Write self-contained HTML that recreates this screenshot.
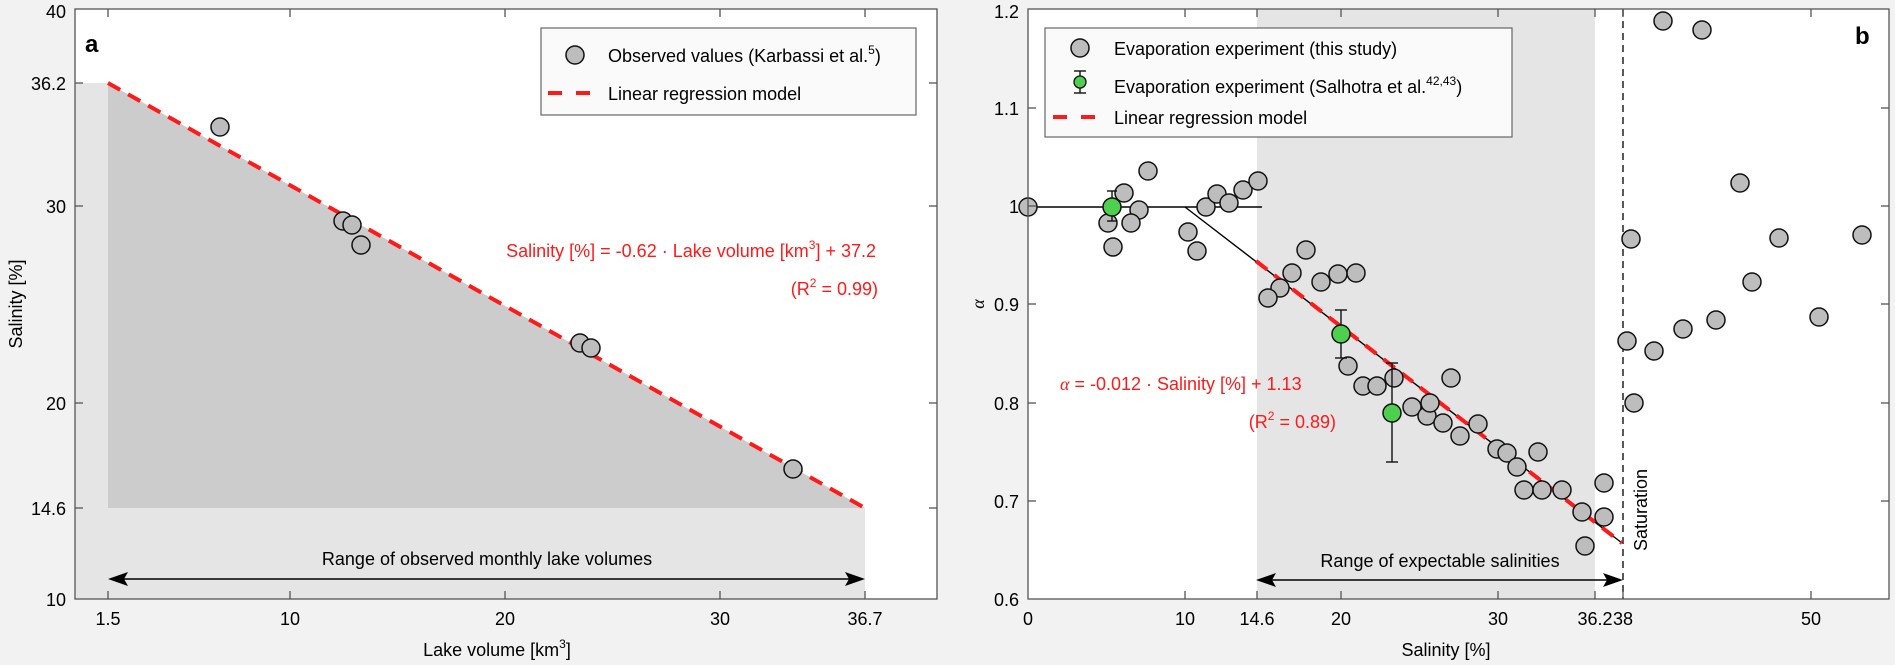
<!DOCTYPE html>
<html><head><meta charset="utf-8"><style>
html,body{margin:0;padding:0;background:#f2f2f2;}
svg{display:block;font-family:"Liberation Sans",Arial,sans-serif;}
</style></head><body>
<svg width="1895" height="665" viewBox="0 0 1895 665" xmlns="http://www.w3.org/2000/svg">
<rect width="1895" height="665" fill="#f2f2f2"/>
<!-- ===== Panel a ===== -->
<rect x="75" y="9" width="862" height="590" fill="#fff"/>
<rect x="75" y="83" width="33" height="516" fill="#e5e5e5"/>
<rect x="108" y="508" width="757" height="91" fill="#e5e5e5"/>
<polygon points="108,83 865,508 108,508" fill="#cccccc"/>
<line x1="108" y1="83" x2="865" y2="508" stroke="#ff1a1a" stroke-width="4" stroke-dasharray="14,9"/>
<g fill="#bdbdbd" stroke="#111" stroke-width="1.5">
<circle cx="220" cy="127" r="9"/><circle cx="343" cy="221" r="9"/><circle cx="352" cy="225" r="9"/>
<circle cx="361" cy="245" r="9"/><circle cx="580" cy="343" r="9"/><circle cx="591" cy="348" r="9"/>
<circle cx="793" cy="469" r="9"/>
</g>
<line x1="118" y1="579" x2="855" y2="579" stroke="#000" stroke-width="1.5"/>
<polygon points="108,579 128,572 124,579 128,586" fill="#000"/>
<polygon points="865,579 845,572 849,579 845,586" fill="#000"/>
<text x="487" y="565" font-size="18" text-anchor="middle">Range of observed monthly lake volumes</text>
<rect x="541" y="28" width="375" height="87" fill="#fafafa" stroke="#666" stroke-width="1.2"/>
<circle cx="575" cy="55" r="9" fill="#bdbdbd" stroke="#111" stroke-width="1.5"/>
<text x="608" y="62" font-size="18">Observed values (Karbassi et al.<tspan font-size="12" dy="-8">5</tspan><tspan dy="8">)</tspan></text>
<line x1="548" y1="93" x2="590" y2="93" stroke="#ff1a1a" stroke-width="4" stroke-dasharray="14,14"/>
<text x="608" y="100" font-size="18">Linear regression model</text>
<text x="876" y="257" font-size="18" fill="#ff1a1a" text-anchor="end">Salinity [%] = -0.62 · Lake volume [km<tspan font-size="12" dy="-8">3</tspan><tspan dy="8">] + 37.2</tspan></text>
<text x="878" y="295" font-size="18" fill="#ff1a1a" text-anchor="end">(R<tspan font-size="12" dy="-8">2</tspan><tspan dy="8"> = 0.99)</tspan></text>
<text x="85" y="52" font-size="24" font-weight="bold">a</text>
<rect x="75" y="9" width="862" height="590" fill="none" stroke="#555" stroke-width="1.3"/>
<g stroke="#555" stroke-width="1.3">
<line x1="108" y1="599" x2="108" y2="591"/><line x1="290" y1="599" x2="290" y2="591"/><line x1="505" y1="599" x2="505" y2="591"/><line x1="720" y1="599" x2="720" y2="591"/><line x1="865" y1="599" x2="865" y2="591"/>
<line x1="108" y1="9" x2="108" y2="17"/><line x1="290" y1="9" x2="290" y2="17"/><line x1="505" y1="9" x2="505" y2="17"/><line x1="720" y1="9" x2="720" y2="17"/><line x1="865" y1="9" x2="865" y2="17"/>
<line x1="75" y1="83" x2="83" y2="83"/><line x1="75" y1="206" x2="83" y2="206"/><line x1="75" y1="403" x2="83" y2="403"/><line x1="75" y1="508" x2="83" y2="508"/>
<line x1="937" y1="83" x2="929" y2="83"/><line x1="937" y1="206" x2="929" y2="206"/><line x1="937" y1="403" x2="929" y2="403"/><line x1="937" y1="508" x2="929" y2="508"/>
</g>
<g font-size="18" text-anchor="end">
<text x="66" y="18">40</text><text x="66" y="90">36.2</text><text x="66" y="213">30</text><text x="66" y="410">20</text><text x="66" y="515">14.6</text><text x="66" y="606">10</text>
</g>
<g font-size="18" text-anchor="middle">
<text x="108" y="625">1.5</text><text x="290" y="625">10</text><text x="505" y="625">20</text><text x="720" y="625">30</text><text x="865" y="625">36.7</text>
</g>
<text x="497" y="656" font-size="18" text-anchor="middle">Lake volume [km<tspan font-size="12" dy="-8">3</tspan><tspan dy="8">]</tspan></text>
<text transform="translate(22,304) rotate(-90)" font-size="18" text-anchor="middle">Salinity [%]</text>

<!-- ===== Panel b ===== -->
<rect x="1028" y="9" width="861" height="590" fill="#fff"/>
<rect x="1257" y="9" width="338" height="590" fill="#e5e5e5"/>
<line x1="1623" y1="9" x2="1623" y2="599" stroke="#222" stroke-width="1.5" stroke-dasharray="7,5"/>
<line x1="1028" y1="207" x2="1262" y2="207" stroke="#000" stroke-width="1.4"/>
<line x1="1185" y1="207" x2="1622" y2="543" stroke="#000" stroke-width="1.4"/>
<line x1="1256" y1="261" x2="1622" y2="543" stroke="#ff1a1a" stroke-width="4" stroke-dasharray="14,9"/>
<g fill="#bdbdbd" stroke="#111" stroke-width="1.5">
<circle cx="1028" cy="207" r="9"/><circle cx="1148" cy="171" r="9"/><circle cx="1124" cy="193" r="9"/>
<circle cx="1108" cy="223" r="9"/><circle cx="1139" cy="210" r="9"/><circle cx="1131" cy="223" r="9"/>
<circle cx="1113" cy="247" r="9"/><circle cx="1188" cy="232" r="9"/><circle cx="1197" cy="251" r="9"/>
<circle cx="1206" cy="207" r="9"/><circle cx="1217" cy="194" r="9"/><circle cx="1229" cy="203" r="9"/>
<circle cx="1243" cy="190" r="9"/><circle cx="1258" cy="181" r="9"/><circle cx="1306" cy="250" r="9"/>
<circle cx="1292" cy="273" r="9"/><circle cx="1280" cy="288" r="9"/><circle cx="1268" cy="298" r="9"/>
<circle cx="1321" cy="282" r="9"/><circle cx="1338" cy="274" r="9"/><circle cx="1356" cy="273" r="9"/>
<circle cx="1348" cy="366" r="9"/><circle cx="1363" cy="386" r="9"/><circle cx="1377" cy="386" r="9"/>
<circle cx="1394" cy="378" r="9"/><circle cx="1451" cy="378" r="9"/><circle cx="1412" cy="407" r="9"/>
<circle cx="1427" cy="416" r="9"/><circle cx="1430" cy="403" r="9"/><circle cx="1443" cy="423" r="9"/>
<circle cx="1460" cy="436" r="9"/><circle cx="1478" cy="424" r="9"/><circle cx="1497" cy="449" r="9"/>
<circle cx="1507" cy="453" r="9"/><circle cx="1538" cy="452" r="9"/><circle cx="1517" cy="467" r="9"/>
<circle cx="1524" cy="490" r="9"/><circle cx="1542" cy="490" r="9"/><circle cx="1562" cy="490" r="9"/>
<circle cx="1604" cy="483" r="9"/><circle cx="1582" cy="512" r="9"/><circle cx="1604" cy="517" r="9"/>
<circle cx="1585" cy="546" r="9"/>
<circle cx="1663" cy="21" r="9"/><circle cx="1702" cy="30" r="9"/><circle cx="1740" cy="183" r="9"/>
<circle cx="1631" cy="239" r="9"/><circle cx="1779" cy="238" r="9"/><circle cx="1862" cy="235" r="9"/>
<circle cx="1752" cy="282" r="9"/><circle cx="1716" cy="320" r="9"/><circle cx="1819" cy="317" r="9"/>
<circle cx="1683" cy="329" r="9"/><circle cx="1627" cy="341" r="9"/><circle cx="1654" cy="351" r="9"/>
<circle cx="1634" cy="403" r="9"/>
</g>
<g stroke="#111" stroke-width="1.4">
<line x1="1112" y1="191" x2="1112" y2="221"/><line x1="1107" y1="191" x2="1117" y2="191"/><line x1="1107" y1="221" x2="1117" y2="221"/>
<line x1="1341" y1="310" x2="1341" y2="358"/><line x1="1335" y1="310" x2="1347" y2="310"/><line x1="1335" y1="358" x2="1347" y2="358"/>
<line x1="1392" y1="363" x2="1392" y2="462"/><line x1="1386" y1="363" x2="1398" y2="363"/><line x1="1386" y1="462" x2="1398" y2="462"/>
</g>
<g fill="#4fcf4f" stroke="#111" stroke-width="1.5">
<circle cx="1112" cy="207" r="9"/><circle cx="1341" cy="334" r="9"/><circle cx="1392" cy="413" r="9"/>
</g>
<line x1="1266" y1="580" x2="1613" y2="580" stroke="#000" stroke-width="1.5"/>
<polygon points="1256,580 1276,573 1272,580 1276,587" fill="#000"/>
<polygon points="1623,580 1603,573 1607,580 1603,587" fill="#000"/>
<text x="1440" y="567" font-size="18" text-anchor="middle">Range of expectable salinities</text>
<text transform="translate(1647,510) rotate(-90)" font-size="18" text-anchor="middle">Saturation</text>
<rect x="1045" y="28" width="467" height="109" fill="#fafafa" stroke="#666" stroke-width="1.2"/>
<circle cx="1080" cy="48" r="9" fill="#bdbdbd" stroke="#111" stroke-width="1.5"/>
<text x="1114" y="55" font-size="18">Evaporation experiment (this study)</text>
<g stroke="#111" stroke-width="1.4"><line x1="1080" y1="71" x2="1080" y2="93"/><line x1="1074" y1="71" x2="1086" y2="71"/><line x1="1074" y1="93" x2="1086" y2="93"/></g>
<circle cx="1080" cy="82" r="6" fill="#4fcf4f" stroke="#111" stroke-width="1.3"/>
<text x="1114" y="93" font-size="18">Evaporation experiment (Salhotra et al.<tspan font-size="12" dy="-8">42,43</tspan><tspan dy="8">)</tspan></text>
<line x1="1053" y1="117" x2="1095" y2="117" stroke="#ff1a1a" stroke-width="4" stroke-dasharray="14,14"/>
<text x="1114" y="124" font-size="18">Linear regression model</text>
<text x="1060" y="390" font-size="18" fill="#ff1a1a"><tspan font-family="Liberation Serif" font-style="italic">α</tspan> = -0.012 · Salinity [%] + 1.13</text>
<text x="1336" y="428" font-size="18" fill="#ff1a1a" text-anchor="end">(R<tspan font-size="12" dy="-8">2</tspan><tspan dy="8"> = 0.89)</tspan></text>
<text x="1855" y="44" font-size="24" font-weight="bold">b</text>
<rect x="1028" y="9" width="861" height="590" fill="none" stroke="#555" stroke-width="1.3"/>
<g stroke="#555" stroke-width="1.3">
<line x1="1185" y1="599" x2="1185" y2="591"/><line x1="1257" y1="599" x2="1257" y2="591"/><line x1="1341" y1="599" x2="1341" y2="591"/><line x1="1498" y1="599" x2="1498" y2="591"/><line x1="1595" y1="599" x2="1595" y2="591"/><line x1="1623" y1="599" x2="1623" y2="591"/><line x1="1811" y1="599" x2="1811" y2="591"/>
<line x1="1185" y1="9" x2="1185" y2="17"/><line x1="1257" y1="9" x2="1257" y2="17"/><line x1="1341" y1="9" x2="1341" y2="17"/><line x1="1498" y1="9" x2="1498" y2="17"/><line x1="1595" y1="9" x2="1595" y2="17"/><line x1="1623" y1="9" x2="1623" y2="17"/><line x1="1811" y1="9" x2="1811" y2="17"/>
<line x1="1028" y1="501" x2="1036" y2="501"/><line x1="1028" y1="403" x2="1036" y2="403"/><line x1="1028" y1="304" x2="1036" y2="304"/><line x1="1028" y1="206" x2="1036" y2="206"/><line x1="1028" y1="108" x2="1036" y2="108"/>
<line x1="1889" y1="501" x2="1881" y2="501"/><line x1="1889" y1="403" x2="1881" y2="403"/><line x1="1889" y1="304" x2="1881" y2="304"/><line x1="1889" y1="206" x2="1881" y2="206"/><line x1="1889" y1="108" x2="1881" y2="108"/>
</g>
<g font-size="18" text-anchor="end">
<text x="1019" y="606">0.6</text><text x="1019" y="508">0.7</text><text x="1019" y="410">0.8</text><text x="1019" y="311">0.9</text><text x="1019" y="213">1</text><text x="1019" y="115">1.1</text><text x="1019" y="18">1.2</text>
</g>
<g font-size="18" text-anchor="middle">
<text x="1028" y="625">0</text><text x="1185" y="625">10</text><text x="1257" y="625">14.6</text><text x="1341" y="625">20</text><text x="1498" y="625">30</text><text x="1595" y="625">36.2</text><text x="1623" y="625">38</text><text x="1811" y="625">50</text>
</g>
<text x="1446" y="656" font-size="18" text-anchor="middle">Salinity [%]</text>
<text transform="translate(984,304) rotate(-90)" font-size="18" text-anchor="middle" font-family="Liberation Serif" font-style="italic">α</text>
</svg>
</body></html>
